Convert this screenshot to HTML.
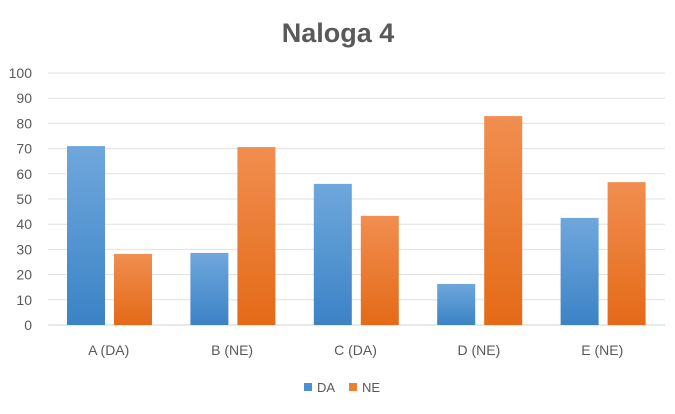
<!DOCTYPE html>
<html><head><meta charset="utf-8"><style>
body{margin:0;background:#fff;font-family:"Liberation Sans",sans-serif}
svg text{fill:#595959}
</style></head><body>
<svg width="675" height="409">
<defs>
<linearGradient id="gb" x1="0" y1="0" x2="0" y2="1"><stop offset="0" stop-color="#6fa7dc"/><stop offset="1" stop-color="#3b83c6"/></linearGradient>
<linearGradient id="go" x1="0" y1="0" x2="0" y2="1"><stop offset="0" stop-color="#f18e50"/><stop offset="1" stop-color="#e46a17"/></linearGradient>
</defs>
<text x="338" y="42" text-anchor="middle" font-size="27" font-weight="bold">Naloga 4</text>
<g id="grid"></g><g id="bars"></g><g id="labels"></g>
<g>
<rect x="304" y="383" width="8" height="8" fill="#4a90d6"/>
<text x="317" y="392" font-size="13">DA</text>
<rect x="349" y="383" width="8" height="8" fill="#ed7d31"/>
<text x="362" y="392" font-size="13">NE</text>
</g>
</svg>
<script>
const categories=["A (DA)","B (NE)","C (DA)","D (NE)","E (NE)"];
const daValues=[71,28.6,56,16.3,42.5];
const neValues=[28.2,70.6,43.3,82.9,56.7];
const yTicks=[0,10,20,30,40,50,60,70,80,90,100];
const NS="http://www.w3.org/2000/svg";
const x0=48,x1=665,yB=325,yT=73,yMax=100;
const y=v=>yB-(yB-yT)*v/yMax;
const cw=(x1-x0)/categories.length;
function mk(t,a,p){const e=document.createElementNS(NS,t);for(const k in a)e.setAttribute(k,a[k]);p.appendChild(e);return e;}
const g=document.getElementById('grid'),b=document.getElementById('bars'),l=document.getElementById('labels');
yTicks.forEach(t=>{
 const ln=mk('line',{x1:x0,x2:x1,y1:y(t),y2:y(t),stroke:t===0?'#d0d0d0':'#e0e0e0','stroke-width':1},g);
 
 
 const tx=mk('text',{x:32,y:y(t)+5,'text-anchor':'end','font-size':14},l);
 tx.textContent=t;
 
 
});
categories.forEach((c,i)=>{
 const cx=x0+i*cw;
 const r1=mk('rect',{x:cx+19,y:y(daValues[i]),width:38,height:yB-y(daValues[i]),fill:'url(#gb)'},b);
 
 
 const r2=mk('rect',{x:cx+66,y:y(neValues[i]),width:38,height:yB-y(neValues[i]),fill:'url(#go)'},b);
 
 
 const tx=mk('text',{x:cx+cw/2-1,y:355,'text-anchor':'middle','font-size':14},l);
 tx.textContent=c;
 
 
});
</script>
</body></html>
